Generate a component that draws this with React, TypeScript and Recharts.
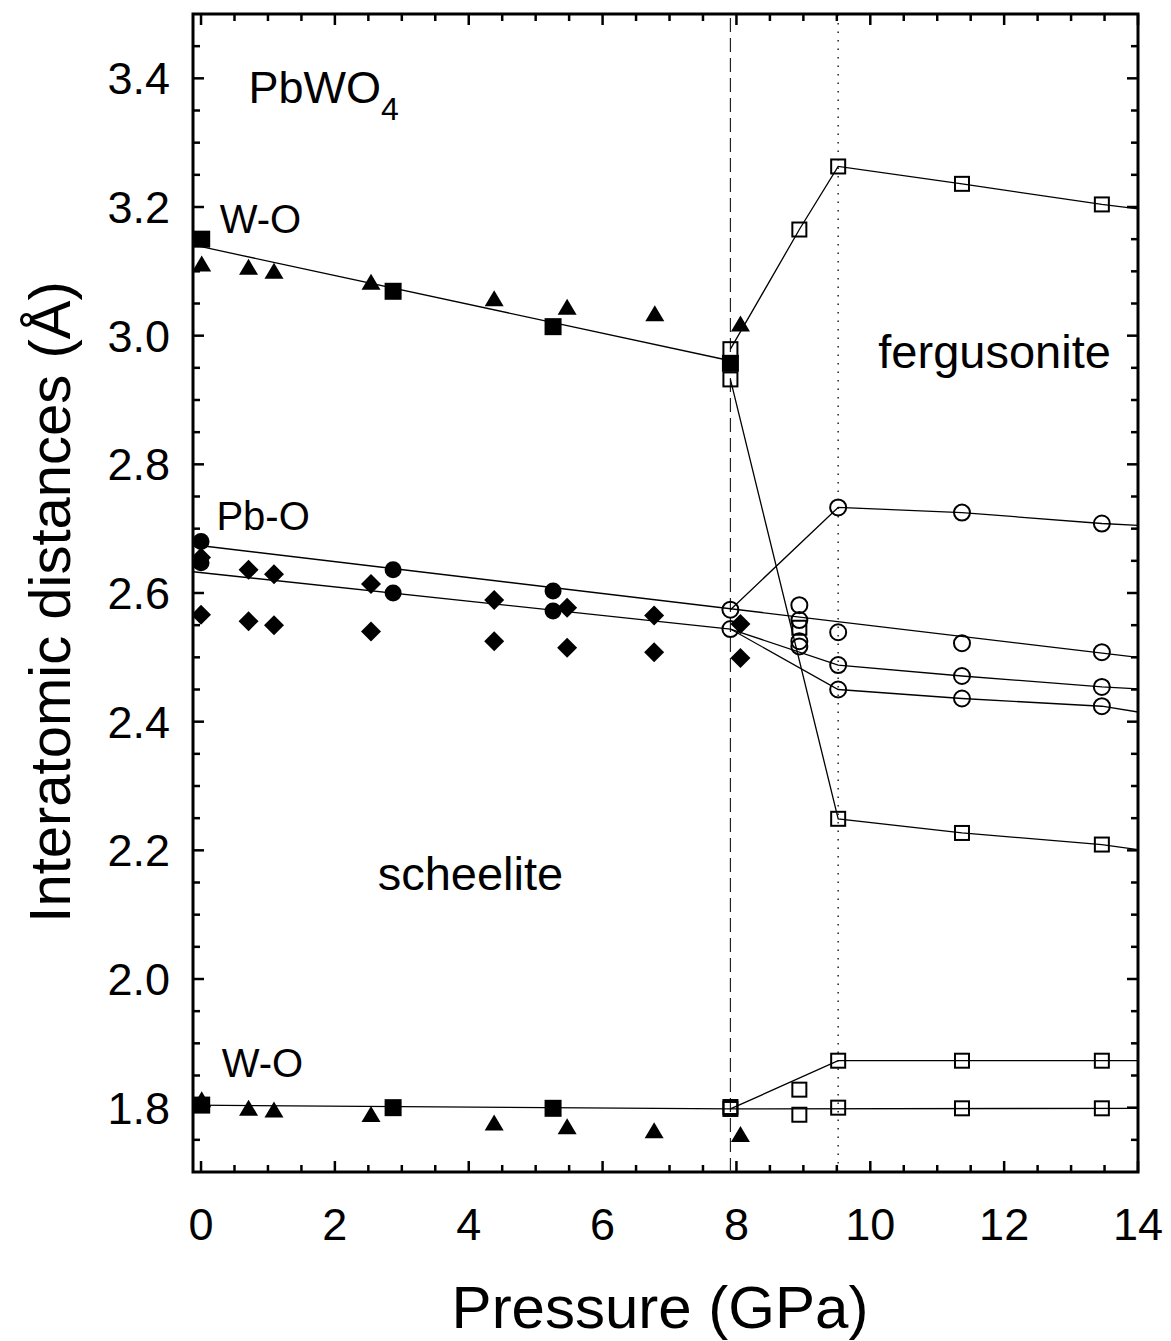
import React from "react";
import {
  ComposedChart,
  Line,
  Scatter,
  XAxis,
  YAxis,
  ReferenceLine,
  ReferenceArea,
  ReferenceDot,
} from "recharts";

// [pressure GPa, distance Å]
// scheelite, long W-O
const woLongSquares = [[0.01, 3.150], [2.87, 3.069], [5.26, 3.014], [7.91, 2.957]];
const woLongTriangles = [[0.01, 3.112], [0.71, 3.107], [1.09, 3.101], [2.54, 3.084], [4.38, 3.058], [5.47, 3.045], [6.78, 3.035], [8.06, 3.019]];
const woLongFit = [[-0.12, 3.141], [7.91, 2.961]];

// scheelite, Pb-O
const pboCircles = [[0, 2.680], [0, 2.647], [2.87, 2.636], [2.87, 2.600], [5.26, 2.603], [5.26, 2.572]];
const pboDiamonds = [[0, 2.655], [0, 2.566], [0.71, 2.636], [0.71, 2.556], [1.09, 2.629], [1.09, 2.550], [2.54, 2.614], [2.54, 2.540], [4.38, 2.589], [4.38, 2.525], [5.47, 2.577], [5.47, 2.515], [6.77, 2.565], [6.77, 2.508], [8.06, 2.552], [8.06, 2.499]];
const pboFitUpper = [[-0.12, 2.675], [14, 2.5]];
const pboFitLower = [[-0.12, 2.633], [7.91, 2.544]];

// scheelite, short W-O
const woShortSquares = [[0.01, 1.804], [2.87, 1.800], [5.26, 1.799]];
const woShortTriangles = [[0.01, 1.813], [0.71, 1.800], [1.09, 1.797], [2.54, 1.790], [4.38, 1.777], [5.47, 1.771], [6.77, 1.765], [8.06, 1.759]];
const woShortFit = [[-0.12, 1.804], [7.91, 1.798], [14, 1.799]];

// fergusonite
const fergSquares = [[7.91, 2.979], [7.91, 2.932], [8.94, 3.165], [9.52, 3.263], [11.37, 3.236], [13.46, 3.204], [9.52, 2.249], [11.37, 2.227], [13.46, 2.209], [8.94, 2.546],
  [7.91, 1.798], [7.91, 1.801], [8.94, 1.828], [8.94, 1.789], [9.52, 1.873], [9.52, 1.800], [11.37, 1.873], [11.37, 1.799], [13.46, 1.873], [13.46, 1.799]];
const fergCircles = [[7.91, 2.574], [7.91, 2.544], [8.94, 2.581], [8.94, 2.558], [8.94, 2.525], [8.94, 2.517],
  [9.52, 2.733], [9.52, 2.539], [9.52, 2.488], [9.52, 2.450], [11.37, 2.725], [11.37, 2.522], [11.37, 2.471], [11.37, 2.436],
  [13.46, 2.708], [13.46, 2.508], [13.46, 2.454], [13.46, 2.424]];
const fergLines = [
  [[7.91, 2.979], [8.94, 3.165], [9.52, 3.263], [11.37, 3.236], [13.46, 3.204], [14, 3.197]],
  [[7.91, 2.932], [9.52, 2.249], [11.37, 2.227], [13.46, 2.209], [14, 2.201]],
  [[7.91, 2.574], [9.52, 2.733], [11.37, 2.725], [13.46, 2.708], [14, 2.705]],
  [[7.91, 2.544], [9.52, 2.488], [11.37, 2.471], [13.46, 2.454], [14, 2.451]],
  [[7.91, 2.544], [9.52, 2.450], [11.37, 2.436], [13.46, 2.424], [14, 2.415]],
  [[7.91, 1.798], [9.52, 1.873], [14, 1.873]],
];

const transitionP = 7.91;
const fergOnsetP = 9.52;

const xMajor = [0, 2, 4, 6, 8, 10, 12, 14];
const yMajor = [1.8, 2.0, 2.2, 2.4, 2.6, 2.8, 3.0, 3.2, 3.4];
const xTicks = Array.from({ length: 29 }, (_, i) => i * 0.5);
const yTicks = Array.from({ length: 35 }, (_, i) => +(1.75 + i * 0.05).toFixed(2));

const toPts = (arr: number[][]) => arr.map(([x, y]) => ({ x, y }));

const W = 1163;
const H = 1333;
const TOP = 6;
const BOTTOM = H - 169;
const LEFT = 185;
const RIGHT = W - 33;
const FONT = "'Liberation Sans', Arial, sans-serif";

const FilledSquare = (p: any) => <rect x={p.cx - 8.5} y={p.cy - 8.5} width={17} height={17} fill="#000" />;
const OpenSquare = (p: any) => <rect x={p.cx - 7} y={p.cy - 7} width={14} height={14} fill="none" stroke="#000" strokeWidth={2} />;
const FilledCircle = (p: any) => <circle cx={p.cx} cy={p.cy} r={8.5} fill="#000" />;
const OpenCircle = (p: any) => <circle cx={p.cx} cy={p.cy} r={8} fill="none" stroke="#000" strokeWidth={2} />;
const Triangle = (p: any) => (
  <polygon points={`${p.cx},${p.cy - 8} ${p.cx + 9.5},${p.cy + 8} ${p.cx - 9.5},${p.cy + 8}`} fill="#000" />
);
const Diamond = (p: any) => (
  <polygon points={`${p.cx},${p.cy - 10} ${p.cx + 10},${p.cy} ${p.cx},${p.cy + 10} ${p.cx - 10},${p.cy}`} fill="#000" />
);

const XTick = (props: any) => {
  const { x, payload } = props;
  const v = payload.value;
  const major = xMajor.includes(v);
  const len = major ? 11 : 7;
  return (
    <g>
      <line x1={x} x2={x} y1={BOTTOM} y2={BOTTOM - len} stroke="#000" strokeWidth={2.5} />
      <line x1={x} x2={x} y1={TOP} y2={TOP + len} stroke="#000" strokeWidth={2.5} />
      {major && (
        <text x={x} y={1232} textAnchor="middle" fontSize={45} fontFamily={FONT} fill="#000">
          {v}
        </text>
      )}
    </g>
  );
};

const YTick = (props: any) => {
  const { y, payload } = props;
  const v = payload.value;
  const major = yMajor.some((m) => Math.abs(m - v) < 1e-6);
  const len = major ? 11 : 7;
  return (
    <g>
      <line x1={LEFT} x2={LEFT + len} y1={y} y2={y} stroke="#000" strokeWidth={2.5} />
      <line x1={RIGHT} x2={RIGHT - len} y1={y} y2={y} stroke="#000" strokeWidth={2.5} />
      {major && (
        <text x={162} y={y + 16} textAnchor="end" fontSize={45} fontFamily={FONT} fill="#000">
          {v.toFixed(1)}
        </text>
      )}
    </g>
  );
};

const note = (text: string, size: number) => (p: any) => (
  <text x={p.viewBox.x} y={p.viewBox.y} fontSize={size} fontFamily={FONT} fill="#000">
    {text}
  </text>
);

const formula = (p: any) => (
  <text x={p.viewBox.x} y={p.viewBox.y} fontSize={45} fontFamily={FONT} fill="#000">
    <tspan>PbWO</tspan>
    <tspan fontSize={32} dy={17}>4</tspan>
  </text>
);

const series = (data: number[][], shape: any) => (
  <Scatter data={toPts(data)} dataKey="y" shape={shape} isAnimationActive={false} />
);

const fitLine = (data: number[][], key: string) => (
  <Line
    key={key}
    data={toPts(data)}
    dataKey="y"
    stroke="#000"
    strokeWidth={1.3}
    dot={false}
    activeDot={false}
    isAnimationActive={false}
  />
);

const App: React.FC = () => {
  return (
    <ComposedChart width={W} height={H} margin={{ top: TOP, right: 33, left: 0, bottom: 0 }}>
      <XAxis
        dataKey="x"
        type="number"
        domain={[-0.12, 14]}
        ticks={xTicks}
        interval={0}
        allowDataOverflow
        height={169}
        axisLine={false}
        tickLine={false}
        tick={XTick}
        label={{
          content: () => (
            <text x={652} y={1320} textAnchor="middle" fontSize={60} fontFamily={FONT} fill="#000">
              Pressure (GPa)
            </text>
          ),
        }}
      />
      <YAxis
        dataKey="y"
        type="number"
        domain={[1.7, 3.5]}
        ticks={yTicks}
        interval={0}
        allowDataOverflow
        width={LEFT}
        axisLine={false}
        tickLine={false}
        tick={YTick}
        label={{
          content: () => (
            <text
              x={62}
              y={594}
              transform="rotate(-90 62 594)"
              textAnchor="middle"
              fontSize={58}
              fontFamily={FONT}
              fill="#000"
            >
              Interatomic distances (Å)
            </text>
          ),
        }}
      />
      <ReferenceLine x={transitionP} stroke="#222" strokeWidth={1.2} strokeDasharray="14 6" />
      <ReferenceLine x={fergOnsetP} stroke="#222" strokeWidth={1.5} strokeDasharray="1.5 7" />

      {fitLine(woLongFit, "l1")}
      {fitLine(pboFitUpper, "l2")}
      {fitLine(pboFitLower, "l3")}
      {fitLine(woShortFit, "l4")}
      {fergLines.map((d, i) => fitLine(d, `f${i}`))}

      {series(woLongTriangles, Triangle)}
      {series(woLongSquares, FilledSquare)}
      {series(pboDiamonds, Diamond)}
      {series(pboCircles, FilledCircle)}
      {series(woShortTriangles, Triangle)}
      {series(woShortSquares, FilledSquare)}
      {series(fergSquares, OpenSquare)}
      {series(fergCircles, OpenCircle)}

      <ReferenceDot x={0.71} y={3.361} r={0} fill="none" stroke="none" label={{ content: formula }} />
      <ReferenceDot x={0.28} y={3.159} r={0} fill="none" stroke="none" label={{ content: note("W-O", 40) }} />
      <ReferenceDot x={0.23} y={2.698} r={0} fill="none" stroke="none" label={{ content: note("Pb-O", 40) }} />
      <ReferenceDot x={0.31} y={1.847} r={0} fill="none" stroke="none" label={{ content: note("W-O", 40) }} />
      <ReferenceDot x={2.64} y={2.138} r={0} fill="none" stroke="none" label={{ content: note("scheelite", 47) }} />
      <ReferenceDot x={10.12} y={2.95} r={0} fill="none" stroke="none" label={{ content: note("fergusonite", 47) }} />

      <ReferenceArea x1={-0.12} x2={14} y1={1.7} y2={3.5} fill="none" stroke="#000" strokeWidth={3} ifOverflow="visible" />
    </ComposedChart>
  );
};

export default App;
